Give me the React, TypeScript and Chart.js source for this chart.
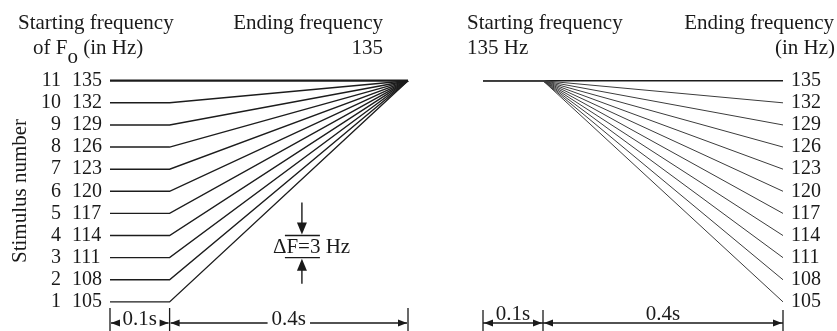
import React, { useEffect, useRef } from "react";
import { Chart, registerables } from "chart.js";

Chart.register(...registerables);

// ---------- data ----------
const stimulusNumbers = [1, 2, 3, 4, 5, 6, 7, 8, 9, 10, 11];
const leftStartFrequencies = [105, 108, 111, 114, 117, 120, 123, 126, 129, 132, 135];
const leftEndFrequency = 135;
const rightStartFrequency = 135;
const rightEndFrequencies = [105, 108, 111, 114, 117, 120, 123, 126, 129, 132, 135];
const segmentTimes = [0, 0.1, 0.5]; // onset, ramp start, offset (s)
const segmentLabels = ["0.1s", "0.4s"];
const deltaLabel = "\u0394F=3 Hz";
const deltaBand = [111, 114]; // Hz, shown with the ΔF marker
const deltaTime = 0.322; // s, horizontal position of the ΔF marker (left panel)

// ---------- style ----------
const SERIF = '"Liberation Serif", "Times New Roman", "DejaVu Serif", serif';
const TEXT = "#1a1a1a";
const W = 837;
const H = 331;

function arrowHead(ctx: CanvasRenderingContext2D, tipX: number, y: number, dir: number) {
  ctx.beginPath();
  ctx.moveTo(tipX, y);
  ctx.lineTo(tipX - dir * 9, y - 3.5);
  ctx.lineTo(tipX - dir * 9, y + 3.5);
  ctx.closePath();
  ctx.fill();
}

function vArrowHead(ctx: CanvasRenderingContext2D, x: number, tipY: number, dir: number) {
  ctx.beginPath();
  ctx.moveTo(x, tipY);
  ctx.lineTo(x - 5, tipY - dir * 12);
  ctx.lineTo(x + 5, tipY - dir * 12);
  ctx.closePath();
  ctx.fill();
}

const annotate = {
  id: "annotate",
  afterDatasetsDraw(chart: any) {
    const ctx: CanvasRenderingContext2D = chart.ctx;
    const xL = chart.scales.x;
    const xR = chart.scales.x2;
    const y = chart.scales.y;
    ctx.save();
    ctx.fillStyle = TEXT;
    ctx.strokeStyle = TEXT;

    // ---- titles (left panel)
    ctx.font = `21px ${SERIF}`;
    ctx.textBaseline = "alphabetic";
    ctx.textAlign = "left";
    ctx.fillText("Starting frequency", 18, 29);
    let cx = 33;
    ctx.fillText("of F", cx, 54);
    cx += ctx.measureText("of F").width;
    ctx.fillText("o", cx, 63);
    cx += ctx.measureText("o").width;
    ctx.fillText(" (in Hz)", cx, 54);
    ctx.textAlign = "right";
    ctx.fillText("Ending frequency", 383, 29);
    ctx.fillText(String(leftEndFrequency), 383, 54);

    // ---- titles (right panel)
    ctx.textAlign = "left";
    ctx.fillText("Starting frequency", 467, 29);
    ctx.fillText(`${rightStartFrequency} Hz`, 467, 54);
    ctx.textAlign = "right";
    ctx.fillText("Ending frequency", 834, 29);
    ctx.fillText("(in Hz)", 835, 54);

    // ---- row labels
    ctx.font = `20px ${SERIF}`;
    ctx.textBaseline = "middle";
    stimulusNumbers.forEach((n, i) => {
      const yy = y.getPixelForValue(leftStartFrequencies[i]);
      ctx.textAlign = "right";
      ctx.fillText(String(n), 61, yy);
      ctx.textAlign = "left";
      ctx.fillText(String(leftStartFrequencies[i]), 72, yy);
    });
    rightEndFrequencies.forEach((f) => {
      const yy = y.getPixelForValue(f);
      ctx.textAlign = "left";
      ctx.fillText(String(f), 791, yy);
    });

    // ---- y axis title (rotated)
    ctx.save();
    ctx.translate(20, 191);
    ctx.rotate(-Math.PI / 2);
    ctx.font = `21px ${SERIF}`;
    ctx.textAlign = "center";
    ctx.textBaseline = "middle";
    ctx.fillText("Stimulus number", 0, 0);
    ctx.restore();

    // ---- ΔF marker
    const dx = xL.getPixelForValue(deltaTime);
    const yTop = y.getPixelForValue(deltaBand[1]);
    const yBot = y.getPixelForValue(deltaBand[0]);
    ctx.lineWidth = 1.4;
    ctx.beginPath();
    ctx.moveTo(dx - 17, yTop);
    ctx.lineTo(dx + 18, yTop);
    ctx.moveTo(dx - 17, yBot);
    ctx.lineTo(dx + 18, yBot);
    ctx.moveTo(dx, yTop - 33);
    ctx.lineTo(dx, yTop - 8);
    ctx.moveTo(dx, yBot + 8);
    ctx.lineTo(dx, yBot + 26);
    ctx.stroke();
    vArrowHead(ctx, dx, yTop - 1, 1);
    vArrowHead(ctx, dx, yBot + 1, -1);
    ctx.font = `21px ${SERIF}`;
    ctx.textAlign = "left";
    ctx.textBaseline = "middle";
    ctx.fillText(deltaLabel, dx - 29, (yTop + yBot) / 2 + 1);

    // ---- time bars (left panel: text interrupts the line)
    const lt = segmentTimes.map((t) => xL.getPixelForValue(t));
    ctx.lineWidth = 1.3;
    ctx.beginPath();
    lt.forEach((px) => {
      ctx.moveTo(px, 308);
      ctx.lineTo(px, 331);
    });
    ctx.stroke();
    const lineYL = 323;
    ctx.font = `21px ${SERIF}`;
    ctx.textAlign = "center";
    ctx.textBaseline = "alphabetic";
    for (let s = 0; s < 2; s++) {
      const a = lt[s] + 1;
      const b = lt[s + 1] - 1;
      const mid = (a + b) / 2;
      const tw = ctx.measureText(segmentLabels[s]).width;
      ctx.fillText(segmentLabels[s], mid, 325);
      ctx.beginPath();
      ctx.moveTo(a, lineYL);
      ctx.lineTo(mid - tw / 2 - 4, lineYL);
      ctx.moveTo(mid + tw / 2 + 4, lineYL);
      ctx.lineTo(b, lineYL);
      ctx.stroke();
      arrowHead(ctx, a, lineYL, -1);
      arrowHead(ctx, b, lineYL, 1);
    }

    // ---- time bars (right panel: continuous line, text above)
    const rt = segmentTimes.map((t) => xR.getPixelForValue(t));
    ctx.beginPath();
    rt.forEach((px) => {
      ctx.moveTo(px, 310);
      ctx.lineTo(px, 331);
    });
    const lineYR = 323;
    ctx.moveTo(rt[0], lineYR);
    ctx.lineTo(rt[2], lineYR);
    ctx.stroke();
    for (let s = 0; s < 2; s++) {
      const a = rt[s] + 1;
      const b = rt[s + 1] - 1;
      ctx.fillText(segmentLabels[s], (a + b) / 2, 320);
      arrowHead(ctx, a, lineYR, -1);
      arrowHead(ctx, b, lineYR, 1);
    }

    ctx.restore();
  },
};

export default function App() {
  const ref = useRef<HTMLCanvasElement | null>(null);

  useEffect(() => {
    if (!ref.current) return;
    const leftSets = leftStartFrequencies.map((f, i) => ({
      label: `L${stimulusNumbers[i]}`,
      xAxisID: "x",
      yAxisID: "y",
      data: [
        { x: segmentTimes[0], y: f },
        { x: segmentTimes[1], y: f },
        { x: segmentTimes[2], y: leftEndFrequency },
      ],
      borderColor: "#1c1c1c",
      borderWidth: f === leftEndFrequency ? 2.2 : 1.4,
      pointRadius: 0,
      tension: 0,
      fill: false,
    }));
    const rightSets = rightEndFrequencies.map((f, i) => ({
      label: `R${stimulusNumbers[i]}`,
      xAxisID: "x2",
      yAxisID: "y",
      data: [
        { x: segmentTimes[0], y: rightStartFrequency },
        { x: segmentTimes[1], y: rightStartFrequency },
        { x: segmentTimes[2], y: f },
      ],
      borderColor: f === rightStartFrequency ? "#1c1c1c" : "#3c3c3c",
      borderWidth: f === rightStartFrequency ? 1.6 : 1,
      pointRadius: 0,
      tension: 0,
      fill: false,
    }));

    const chart = new Chart(ref.current, {
      type: "line",
      data: { datasets: [...leftSets, ...rightSets] as any },
      options: {
        animation: false,
        responsive: false,
        devicePixelRatio: 1,
        layout: { padding: 0 },
        plugins: { legend: { display: false }, tooltip: { enabled: false } },
        scales: {
          x: { type: "linear", display: false, min: -110 / 596, max: (W - 110) / 596 },
          x2: { type: "linear", display: false, min: -483 / 600, max: (W - 483) / 600 },
          y: { type: "linear", display: false, min: 135 - (H - 80.7) / 7.373, max: 135 + 80.7 / 7.373 },
        },
      },
      plugins: [annotate],
    });
    return () => chart.destroy();
  }, []);

  return (
    <div style={{ position: "absolute", left: 0, top: 0, width: W, height: H, background: "#fff" }}>
      <canvas ref={ref} width={W} height={H} style={{ display: "block" }} />
    </div>
  );
}
